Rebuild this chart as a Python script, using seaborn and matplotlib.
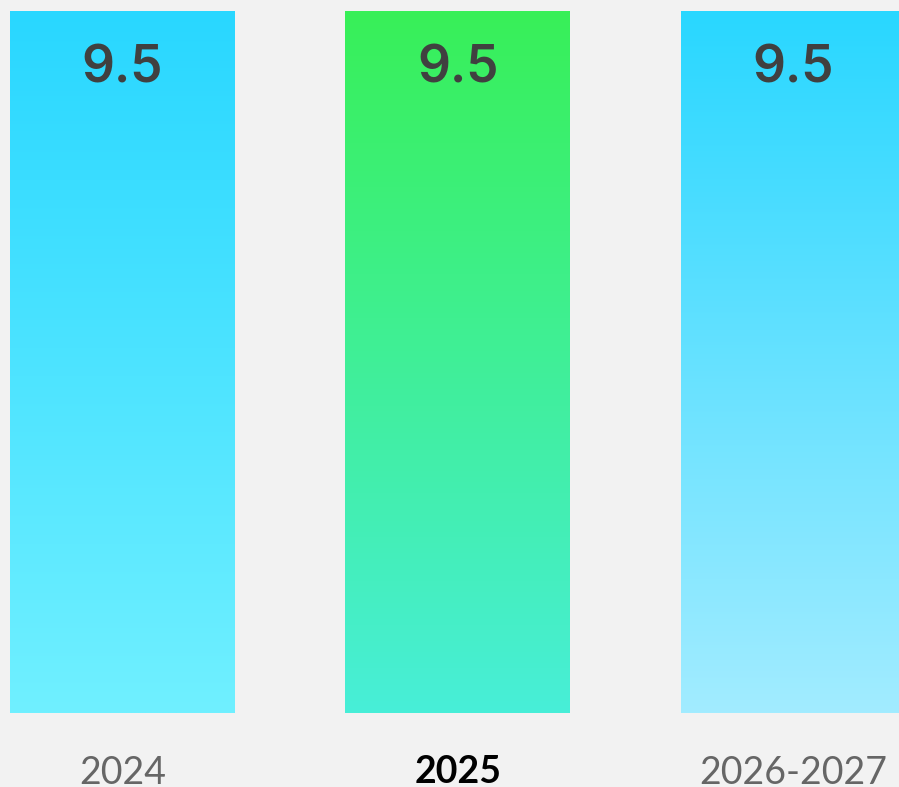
import numpy as np
import pandas as pd
import matplotlib
matplotlib.use("Agg")
import matplotlib.pyplot as plt
from matplotlib.colors import LinearSegmentedColormap
import seaborn as sns

# Chart data
periods = ["2024", "2025", "2026-2027"]
values = [9.5, 9.5, 9.5]

# Vertical gradient per bar: (top colour, bottom colour)
gradients = [("#29d7ff", "#70f0ff"), ("#38f058", "#48eed8"), ("#29d7ff", "#a2ecff")]
label_colors = ["#666666", "#000000", "#666666"]
label_weights = ["normal", "bold", "normal"]

sns.set_theme(style="white")
plt.rcParams["font.family"] = ["Lato", "DejaVu Sans"]

bg = "#f2f2f2"
fig = plt.figure(figsize=(8.99, 7.87), dpi=100, facecolor=bg)
ax = fig.add_axes([0, 74 / 787, 1, 713 / 787])
ax.set_facecolor(bg)

df = pd.DataFrame({"period": periods, "value": values})
sns.barplot(data=df, x="period", y="value", ax=ax, width=0.67,
            color=gradients[0][0], saturation=1, linewidth=0)

xlim = (-122.5 / 335.3, (899 - 122.5) / 335.3)
ylim = (0, 9.5 * 713 / 702)

grad = np.linspace(0, 1, 256).reshape(-1, 1)
for patch, (top, bottom), v in zip(ax.patches, gradients, values):
    x0, w = patch.get_x(), patch.get_width()
    cmap = LinearSegmentedColormap.from_list("g", [bottom, top])
    im = ax.imshow(grad, cmap=cmap, aspect="auto", origin="lower",
                   extent=[x0, x0 + w, 0, patch.get_height()], zorder=patch.get_zorder() + 0.1)
    im.set_clip_path(patch)
    ax.text(x0 + w / 2, v - 0.79, f"{v:.1f}", ha="center", va="center",
            fontsize=37, fontweight="semibold", color="#404040", zorder=5,
            family=["Inter", "DejaVu Sans"])

ax.set_xlim(*xlim)
ax.set_ylim(*ylim)

ax.set_xlabel("")
ax.set_ylabel("")
ax.set_yticks([])
ax.tick_params(axis="x", length=0, pad=30)
ax.set_xticks(range(len(periods)))
ax.set_xticklabels(periods, fontsize=27)
for lbl, c, wt in zip(ax.get_xticklabels(), label_colors, label_weights):
    lbl.set_color(c)
    lbl.set_fontweight(wt)
for s in ax.spines.values():
    s.set_visible(False)

fig.savefig("out.png", dpi=100, facecolor=bg)
